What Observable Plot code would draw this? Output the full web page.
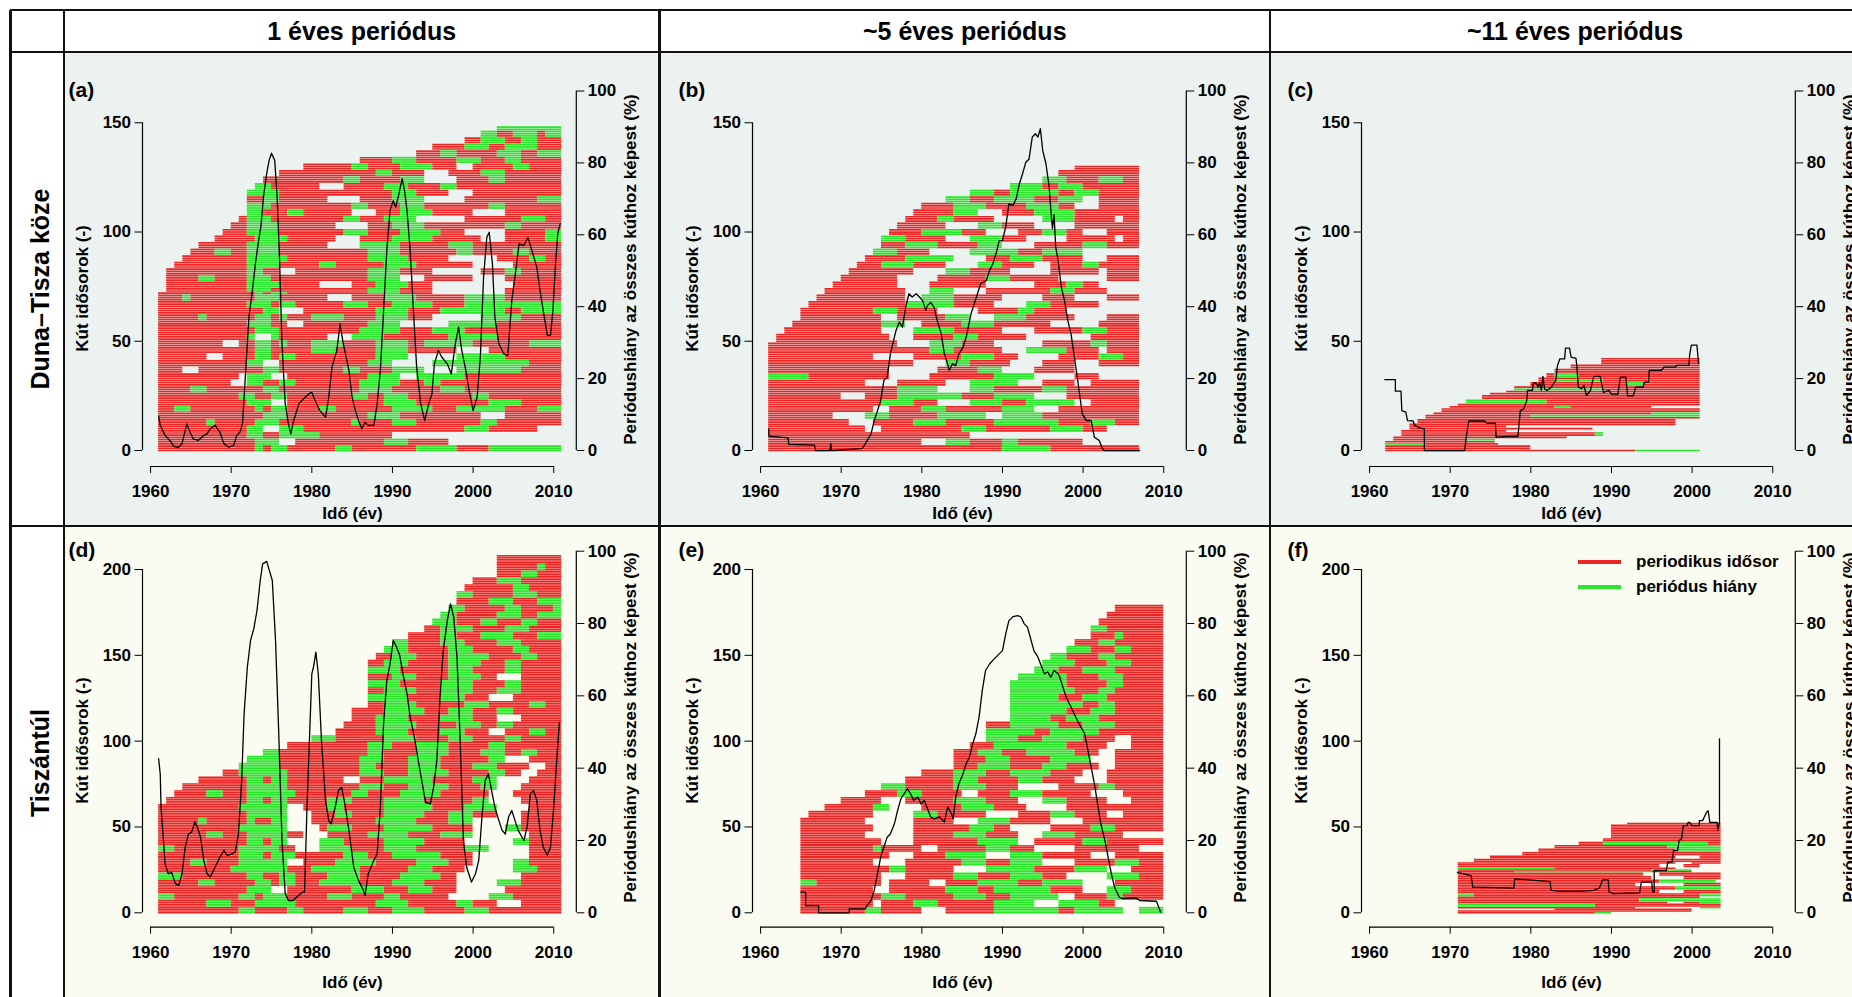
<!DOCTYPE html>
<html lang="hu">
<head>
<meta charset="utf-8">
<script src="https://cdn.jsdelivr.net/npm/d3@7"></script>
<script src="https://cdn.jsdelivr.net/npm/@observablehq/plot@0.6"></script>
<style>
  html, body { margin:0; padding:0; background:#fff; }
  body { width:1852px; height:997px; overflow:hidden; position:relative;
         font-family:'Liberation Sans', Arial, Helvetica, sans-serif; font-weight:bold; color:#000; }
  .bg { position:absolute; }
  .line { position:absolute; background:#111; }
  .head { position:absolute; display:flex; align-items:center; justify-content:center; font-size:25px; white-space:nowrap; }
  .rowlab { position:absolute; font-size:25px; white-space:nowrap; transform:translate(-50%,-50%) rotate(-90deg); }
  .panel { position:absolute; width:600px; }
  .panel svg { display:block; max-width:none !important; }
  .leg { position:absolute; font-size:17px; white-space:nowrap; }
  .sw { position:absolute; height:4px; }
</style>
</head>
<body>
<script>
// ---------------- texts ----------------
const columnTitles = ["1 éves periódus", "~5 éves periódus", "~11 éves periódus"];
const rowTitles = ["Duna–Tisza köze", "Tiszántúl"];
const panelLetters = ["(a)", "(b)", "(c)", "(d)", "(e)", "(f)"];
const titleWells = "Kút idősorok (-)";
const titlePct = "Periódushiány az összes kúthoz képest (%)";
const titleTime = "Idő (év)";
const legendLabels = ["periodikus idősor", "periódus hiány"];

// ---------------- ticks ----------------
const xTicks = [1960, 1970, 1980, 1990, 2000, 2010];
const wellTicksTop = [0, 50, 100, 150];
const wellTicksBottom = [0, 50, 100, 150, 200];
const pctTicks = [0, 20, 40, 60, 80, 100];

// ------------- well time series: [number of wells, start year, runs (r = periodic, g = missing period, _ = no data; years)] -------------
const wellsA = [
 [3,1961,"r12 g1 r1 g2 r6 g2 r8 g5 r4 g9"],
 [3,1961,"r12 g3 _2 r11 g3 r5"],
 [3,1961,"r11 g2 r2 g5 r9"],
 [3,1961,"r11 g2 _2 g3 r20 g3 r6"],
 [3,1961,"r6 g1 r5 g3 r9 g1 r4 g3 r8 g2 r8"],
 [3,1961,"r13 g3 r10 g4 r10 _3 r7"],
 [3,1961,"r2 g2 r8 g1 r1 g2 r4 g2 r7 g5 r3 g6 r4 g3"],
 [3,1961,"r11 g3 _2 r12 g4 r9 g4 r5"],
 [3,1961,"r10 g2 r2 g2 r8 g2 r2 g3 r8 g2 r9"],
 [3,1961,"r4 g2 r7 g2 r10 g4 r6 g3 r12"],
 [3,1961,"r9 _2 g2 r2 g2 r8 g5 r3 g2 r15"],
 [3,1961,"r10 _1 g3 _2 r10 g4 _2 g6 r12"],
 [3,1961,"r3 _2 r8 g2 r8 g2 r4 g4 _4 g8 r5"],
 [3,1961,"r11 g2 _2 r11 g3 _5 g12 r4"],
 [3,1961,"r6 _2 r4 g2 r1 g2 r10 g4 _6 g6 r7"],
 [3,1961,"r12 g2 r5 g3 r5 g4 r6 _4 r9"],
 [3,1961,"r8 _2 r2 g2 r1 g1 r3 g4 r4 g4 r2 g6 r7 g4"],
 [3,1961,"r11 g1 _2 g1 r6 _3 g4 r8 g6 r8"],
 [3,1961,"r12 g3 r10 g5 r4 g4 r12"],
 [3,1961,"r11 g3 r2 _2 r8 g4 _6 g6 r8"],
 [3,1961,"r5 g1 r6 g2 r1 g1 r3 g4 r4 g4 r3 _6 g5 r5"],
 [3,1961,"r13 g2 _3 r9 g4 r4 g8 r2 g5"],
 [3,1961,"r11 g3 r1 g2 r6 g3 r3 g5 r4 g12"],
 [3,1961,"r3 g1 r8 g3 r6 _3 r4 g4 r6 g5 r7"],
 [1,1961,"r12 g1 r1 g2 r10 g4 r4 _9 r7"],
 [2,1962,"r10 g3 r12 g4 r4 _9 r7"],
 [3,1962,"r10 g4 r5 _4 r3 g4 r3 _10 r6"],
 [3,1962,"r4 g2 r4 g3 r12 g4 _3 r6 _4 r7"],
 [3,1962,"r10 g2 r2 _2 r9 g4 r4 _6 r3 g2 r5"],
 [3,1963,"r9 g4 r5 g2 r6 g4 r7 _5 r6"],
 [3,1964,"r8 g5 r10 g5 r5 _6 r4 g2 r2"],
 [3,1965,"r3 g2 r2 g4 r11 g4 r7 g2 r5 g2 r4"],
 [3,1966,"r6 g4 r6 _4 g5 r6 g3 r11"],
 [3,1968,"r5 g4 r6 _3 r4 g5 r6 _3 r5 g2"],
 [3,1969,"r3 g4 r8 g3 r4 g5 r3 _5 r5 g2"],
 [3,1970,"r2 g4 r7 _4 r3 g4 r10 g2 r5"],
 [3,1971,"r1 g3 r9 g2 r3 g4 _6 r7 g3 r2"],
 [3,1972,"g2 r3 g2 r6 _3 r3 g4 r5 _4 r7"],
 [3,1972,"g3 r10 g2 r4 g3 r8 g2 r7"],
 [3,1972,"r2 g2 r6 _4 r4 g4 _5 r9 g3"],
 [3,1972,"g4 r14 g3 r4 _3 r11"],
 [3,1973,"g2 r6 _3 r5 g3 r4 g2 r13"],
 [3,1974,"r10 g2 r5 g3 _4 r4 g2 r7"],
 [3,1976,"r12 g2 r4 _3 r4 g3 r7"],
 [3,1979,"r6 g2 r4 g4 r3 _2 r5 g2 r4"],
 [3,1986,"r4 g3 r5 g3 r3 g2 r5"],
 [3,1993,"r3 g2 r5 g3 r2 g3"],
 [3,1995,"r4 g3 r2 g4 r3"],
 [3,1999,"r2 g3 r2 g2 r3"],
 [3,2001,"g2 r2 g3 r1 g2"],
 [2,2003,"g8"]
];
const wellsB = [
 [3,1961,"r29 g6 r11"],
 [3,1961,"r19 _3 g3 r4 g2 r8"],
 [3,1961,"r25"],
 [3,1961,"r12 _2 r10 g3 r8 g4 r3"],
 [3,1961,"r10 _3 r5 g4 r6 g8 r4 g3 r3"],
 [3,1961,"r8 _4 g3 r6 g6 _2 g5 r12"],
 [3,1961,"r13 _2 r4 g3 r7 g4 _3 r10"],
 [3,1961,"r14 g4 r3 _4 g4 r3 g6 _2 r6"],
 [3,1961,"r9 _3 r4 g8 r4 g5 _4 r9"],
 [3,1961,"r16 g5 _4 g3 r6 g3 r9"],
 [3,1961,"r12 _4 r6 _3 g6 _3 r4 _2 r6"],
 [3,1961,"g5 r10 _5 r8 g5 _5 r3"],
 [3,1961,"r15 _6 r5 g3 _4 r5"],
 [3,1961,"r18 _4 g3 r5 _4 r4 _3 r5"],
 [3,1961,"r13 _5 r6 g4 r3 _5 r5 g3 r2"],
 [3,1961,"r20 g3 r6 _3 g5 r4 _1 r4"],
 [2,1961,"r16 _4 g4 r4 _6 r6 g2 r4"],
 [1,1962,"r15 _4 g4 r4 _6 r6 g2 r4"],
 [3,1962,"r14 _3 r5 g3 r6 _8 r6"],
 [3,1963,"r12 _4 g5 r6 _4 r6 g3 r4"],
 [3,1964,"r11 g3 _2 r5 g4 r7 _6 r5"],
 [3,1965,"r10 _2 r6 g3 _3 g4 r6 _4 r4"],
 [3,1965,"r9 g3 r5 _5 r5 g2 r4"],
 [3,1966,"r12 g6 r5 _4 g3 r6"],
 [3,1967,"r11 _2 g4 r6 _5 r4 _4 r4"],
 [3,1968,"r10 _3 g3 _4 r8 g3 r4"],
 [3,1969,"r8 _4 r7 _6 r4 g2 r2"],
 [3,1970,"r7 _5 r6 g3 r6 _6 r4"],
 [3,1971,"r8 _4 g3 r5 _5 r6 _1 r4"],
 [3,1972,"r3 g4 r4 _4 g3 r4 _2 r4 g2 r5"],
 [3,1973,"r5 g6 _4 r3 g4 r5 _3 r4"],
 [3,1974,"g3 r4 _5 g6 r3 g5"],
 [3,1975,"r3 g4 r5 g3 _4 r6 g3 r4"],
 [3,1975,"g3 r5 _3 g4 r3 _5 r6 _1 r2"],
 [3,1976,"r4 g5 r3 _4 r3 g3 r2 _3 r4"],
 [3,1977,"r6 _4 g3 r4 _5 r8"],
 [3,1978,"r4 g2 r5 _6 g4 r5 _1 r2"],
 [3,1979,"r5 g3 _3 r4 g5 r8"],
 [3,1980,"r4 g4 r5 g4 r2 _3 r5"],
 [3,1983,"g3 r3 g5 r3 g3 _2 r5"],
 [3,1986,"g3 r2 g6 r2 g3 r5"],
 [3,1991,"g4 r2 g3 r7"],
 [3,1995,"g3 r4 g3 r2"],
 [3,1997,"r10"],
 [2,1999,"r8"]
];
const wellsC = [
 [1,1962,"r31 g8"],
 [2,1962,"r18"],
 [1,1962,"g5 r9"],
 [1,1962,"r13.6"],
 [1,1963,"r9 g3.6"],
 [1,1963,"r21.5"],
 [2,1964,"r24 g1"],
 [1,1964,"r13"],
 [1,1965,"r22.7"],
 [1,1965,"r12"],
 [1,1965,"r33"],
 [2,1966,"r32"],
 [1,1967,"r34"],
 [1,1967,"r13 g21"],
 [1,1968,"r27 g6"],
 [2,1969,"r32"],
 [1,1970,"r13 g2 r10"],
 [1,1971,"r30"],
 [2,1972,"g10 r19"],
 [2,1974,"r27"],
 [1,1975,"r26"],
 [1,1977,"r24"],
 [1,1978,"g11 r12"],
 [1,1978,"r23"],
 [2,1980,"r12 g2 r7"],
 [1,1981,"r2 g6 r12"],
 [1,1981,"r20"],
 [2,1982,"r1 g3 r15"],
 [2,1983,"r18"],
 [2,1985,"r16"],
 [3,1988.8,"r12.2"]
];
const wellsD = [
 [4,1961,"r10 g2 r4 g2 r5 g3 r3 g4 r5 g3 r9"],
 [4,1961,"r6 g3 r3 g5 r10 g4 r6 g2 r3 _3 r5"],
 [4,1961,"g2 r8 g2 r1 g3 r5 g3 r4 g2 r6 _5 g3 r6"],
 [4,1961,"r11 g3 _2 r8 g4 r3 g3 r3 _6 r7"],
 [4,1961,"r5 g2 r5 g2 r1 g2 r3 g5 r4 g4 r4 _5 g3 r5"],
 [4,1961,"g3 r8 g2 r2 g2 r4 g4 r5 g5 r2 _8 r5"],
 [4,1961,"r9 g7 r3 g6 r6 g3 r4 _6 g3 r3"],
 [4,1961,"r4 g2 r4 g6 _2 r4 g5 r5 g4 r3 _5 g2 r4"],
 [4,1961,"r10 g3 r1 g3 r6 g3 r3 g6 r4 _7 r4"],
 [4,1961,"g2 r8 g5 r2 _3 g4 r4 g4 r6 g3 _5 r4"],
 [4,1961,"r11 g2 r1 g2 _4 g3 r5 g5 r5 _6 g2 r4"],
 [4,1961,"r6 g2 r3 g5 r2 _3 r5 g5 r4 g4 _7 r4"],
 [4,1961,"r10 g6 _4 r1 g3 r4 g6 r5 _4 g2 r5"],
 [4,1961,"r5 g1 r5 g1 r2 g2 _3 r8 g5 r4 g3 _6 r5"],
 [4,1961,"r11 g5 _3 r3 g2 r4 g5 r3 g3 r3 _3 r5"],
 [4,1961,"r10 g6 _2 r3 g2 r5 g6 r4 g4 _4 r4"],
 [4,1962,"r10 g2 r1 g2 r5 g3 r4 g5 r6 g2 _4 r5"],
 [4,1963,"r4 g2 r3 g6 r7 g2 r4 g5 r6 _3 r6"],
 [4,1964,"r8 g5 r9 g3 r3 g5 r4 g2 _3 r5"],
 [4,1966,"r6 g2 r1 g2 r7 _2 r3 g6 r5 g3 _4 r4"],
 [4,1969,"r2 g6 r9 g3 r3 g5 r5 g2 r2 _2 r3"],
 [4,1971,"g5 r10 g2 r4 g4 r4 g3 r4 _2 r2"],
 [4,1972,"g4 r10 g3 r3 g4 r6 g2 _3 r4"],
 [4,1974,"g2 r11 g2 r4 g4 r4 g3 r2 g2 r3"],
 [4,1977,"r10 g3 r3 g4 r5 g2 r7"],
 [4,1980,"g3 r6 g4 r4 g3 r4 g2 r5"],
 [4,1983,"r5 g4 r4 g3 r3 _2 r3 g2 r2"],
 [4,1984,"r4 g5 r5 g3 r2 g2 r6"],
 [4,1985,"r3 g4 r4 g4 r3 _3 r5"],
 [4,1985,"r4 g5 r3 g3 r3 g2 r6"],
 [4,1987,"r2 g4 r6 g3 r5 g2 r2"],
 [4,1987,"g5 r4 g3 r3 _3 r6"],
 [4,1987,"r2 g4 r3 g4 r3 g3 r5"],
 [4,1987,"g4 r5 g4 r4 g2 r5"],
 [4,1987,"r3 g3 r4 g4 r2 _3 r5"],
 [4,1987,"g4 r6 g3 r4 g2 r5"],
 [4,1987,"r2 g3 r5 g4 r3 g2 r5"],
 [4,1988,"r2 g3 r4 g5 r4 g2 r3"],
 [4,1989,"g3 r5 g3 r5 g2 r4"],
 [4,1990,"g2 r4 g3 r4 g3 r5"],
 [4,1992,"r4 g2 r3 g4 r3 g3"],
 [4,1994,"r2 g4 r4 g3 r4"],
 [4,1995,"g3 r3 g2 r3 g2 r3"],
 [4,1996,"g2 r5 g3 r2 g3"],
 [4,1997,"g2 r5 g2 r4 g1"],
 [4,1998,"r4 g3 r3 g3"],
 [4,1998,"g2 r5 g3 r3"],
 [4,1999,"r6 g2 r4"],
 [4,2000,"r3 g3 r5"],
 [4,2003,"r3 g2 r3"],
 [4,2003,"r5 g1 r2"],
 [5,2003,"r8"]
];
const wellsE = [
 [4,1965,"r8 g2 r5 _3 r6 g8 r2 g6 _2 g3"],
 [4,1965,"r9 _1 r4 g3 r7 g5 _3 g5 r2"],
 [4,1965,"r10 g3 r6 g4 r3 g6 _2 r4 g2 r5"],
 [4,1965,"r9 _2 r7 g4 r2 g7 r4 _3 g3 r4"],
 [4,1965,"g2 r8 _1 r5 _2 r4 g5 r3 g5 _4 r6"],
 [4,1965,"r10 _3 r6 g3 r4 g4 r3 _5 g4 r3"],
 [4,1965,"r11 g2 r6 _4 g6 r5 g4 _3 r4"],
 [4,1965,"r9 _4 r7 g3 r3 g4 _4 r5 g3 r3"],
 [4,1965,"r11 _3 r4 g5 _3 g4 r6 _3 r6"],
 [4,1965,"r9 g1 r5 _2 r6 g3 r3 _5 r8"],
 [4,1965,"r10 _4 r8 g5 _2 r6 g3 r7"],
 [4,1965,"r8 _6 r5 g4 r4 _3 g4 r6"],
 [4,1965,"r9 _5 r7 g3 r2 _5 r5 g3 r6"],
 [4,1965,"r8 _6 r5 _3 g4 r5 _4 r10"],
 [4,1966,"r8 _5 g3 r6 _4 r4 g3 r4 _2 r5"],
 [4,1968,"r6 g2 _4 r5 g4 r4 _5 r12"],
 [4,1970,"r5 _3 r6 g4 r4 _3 g3 r5 _3 r4"],
 [4,1973,"r4 g3 r5 _2 r4 g4 r6 _4 r5"],
 [4,1975,"g3 r6 g4 r4 _5 r5 g2 r6"],
 [4,1978,"r6 g3 r5 g3 r4 _4 r7"],
 [4,1980,"r4 g4 r3 g5 r4 _3 r7"],
 [4,1984,"r3 g4 r4 g3 r4 _2 r6"],
 [4,1984,"r4 g3 r5 g5 _3 r6"],
 [4,1984,"r3 g3 r3 g6 r3 _2 r6"],
 [4,1986,"r3 g9 r5 _3 r4"],
 [4,1988,"g4 r3 g5 r4 _2 r4"],
 [4,1988,"g6 r2 g6 r8"],
 [4,1988,"r3 g6 r3 g4 r6"],
 [4,1991,"g5 r2 g4 r8"],
 [4,1991,"g7 r3 g3 r6"],
 [4,1991,"g9 r2 g2 r6"],
 [4,1991,"g6 r3 g3 r7"],
 [4,1991,"g8 r3 g2 r6"],
 [4,1991,"g7 r5 g2 r5"],
 [4,1992,"g6 r4 g3 r5"],
 [4,1994,"g3 r3 g4 r6"],
 [4,1995,"g4 r4 g3 r4"],
 [4,1996,"g2 r4 g2 r6"],
 [4,1998,"g3 r3 g2 r4"],
 [4,1999,"r3 g2 r6"],
 [4,2001,"r3 g1 r5"],
 [4,2001,"g2 r7"],
 [4,2002,"r8"],
 [4,2003,"r7"],
 [4,2004,"r6"]
];
const wellsF = [
 [1,1971,"r17 g2"],
 [1,1971,"r29"],
 [1,1983,"r17"],
 [1,1971,"r22 _8 g2.6"],
 [2,1971,"g17 r15.6"],
 [1,1971,"r26 _2 r2 g2.6"],
 [2,1971,"r22.5 g10.1"],
 [1,1971,"r30"],
 [2,1971,"g2 r28 g2.6"],
 [2,1971,"r25 _3 r4.6"],
 [2,1971,"r27 g5.6"],
 [2,1971,"r22 _6 r4.6"],
 [2,1971,"r25 g7"],
 [2,1971,"r24 _4 r4.6"],
 [2,1971,"r23 _2 r7.6"],
 [1,1971,"r7 g17 r5"],
 [1,1971,"r24 g5"],
 [1,1971,"g12 r15"],
 [2,1971,"r25 _3 r2"],
 [1,1971,"r27 _2 r3.6"],
 [2,1973,"r30.6"],
 [2,1975,"r23 _3 r2.6"],
 [2,1979,"r24.6"],
 [2,1981,"r17 g5.6"],
 [2,1983,"r14 g6.6"],
 [2,1986,"r3 g13 r1.6"],
 [2,1989,"r14.6"],
 [4,1990,"r13.6"],
 [4,1990,"r13.6"],
 [1,1992,"r11.6"]
];

// ------------- missing-period share (%) : [year, percent] -------------
const lineA = [[1961.0,9.5],[1961.2,7.0],[1961.8,4.2],[1962.4,2.8],[1962.9,1.1],[1963.5,0.9],[1963.9,1.9],[1964.5,7.4],[1964.9,5.1],[1965.3,3.2],[1965.9,2.8],[1966.6,4.2],[1967.0,4.6],[1967.4,6.0],[1968.0,7.0],[1968.6,5.1],[1969.1,1.9],[1969.7,0.9],[1970.3,1.4],[1970.7,4.2],[1971.1,5.1],[1971.4,7.4],[1971.7,18.5],[1972.2,37.1],[1972.6,44],[1973.0,51.9],[1973.4,58.4],[1973.7,62.6],[1974.0,70.5],[1974.4,77],[1974.7,80.7],[1975.0,82.7],[1975.4,80.7],[1975.7,70.5],[1976.0,52.9],[1976.3,29.7],[1976.7,13],[1977.1,7.4],[1977.4,4.6],[1977.7,7.9],[1978.4,13],[1978.8,13.9],[1979.2,14.8],[1979.7,15.9],[1980.0,16.2],[1980.4,13.9],[1981.0,11.1],[1981.7,9.3],[1982.1,14.8],[1982.5,23.2],[1983.1,27.8],[1983.5,35.2],[1983.9,29.7],[1984.6,22.3],[1985.0,14.8],[1985.4,11.1],[1985.8,8.3],[1986.2,6.0],[1986.6,7.9],[1987.0,7.0],[1987.7,7.0],[1988.1,13],[1988.5,22.3],[1988.9,38.9],[1989.3,55.6],[1989.7,66.8],[1990.1,69.5],[1990.4,67.7],[1990.8,71.4],[1991.2,75.6],[1991.5,72.3],[1991.8,66.8],[1992.2,55.6],[1992.6,38.9],[1993.0,23.2],[1993.5,13],[1994.0,8.3],[1994.5,13],[1994.9,15.8],[1995.2,24.1],[1995.7,27.8],[1996.1,26],[1996.8,24.1],[1997.3,21.3],[1997.8,29.7],[1998.2,34.3],[1998.6,27.8],[1999.1,22.3],[1999.5,16.7],[2000.0,11.1],[2000.5,14.8],[2000.9,26],[2001.3,48.2],[2001.7,59.3],[2002.0,60.7],[2002.4,51.9],[2002.7,37.1],[2003.2,29.7],[2003.8,26.9],[2004.3,26.4],[2004.8,41.7],[2005.3,50.1],[2005.7,57.5],[2006.3,57],[2006.8,59.3],[2007.3,55.6],[2007.9,51],[2008.3,44.5],[2008.7,38.9],[2009.2,32],[2009.6,32],[2009.9,38.9],[2010.2,51],[2010.5,60.3],[2010.8,63.1]];
const lineB = [[1961.0,6],[1961.05,4],[1963.4,3.5],[1963.5,1.7],[1966.7,1.5],[1966.8,0],[1968.6,0],[1968.7,2],[1968.8,0],[1972.6,0.5],[1973.0,1.9],[1973.7,4.6],[1974.1,8.3],[1974.5,11.1],[1974.9,13.9],[1975.3,19.5],[1975.7,20.4],[1976.1,26.9],[1976.8,33.4],[1977.2,35.7],[1977.6,34.3],[1978.0,39.9],[1978.4,43.6],[1978.8,42.7],[1979.3,43.6],[1979.7,42.7],[1980.1,41.7],[1980.5,38.9],[1980.7,40.3],[1981.1,41.2],[1981.5,39.9],[1981.9,36.2],[1982.4,32.5],[1982.8,26.9],[1983.2,24.1],[1983.4,22.3],[1983.8,24.1],[1984.2,23.6],[1984.6,26.9],[1985.1,28.7],[1985.5,31.5],[1986.1,38],[1986.5,40.8],[1986.9,43.6],[1987.3,46.4],[1988.0,47.3],[1988.4,50.1],[1988.8,51.9],[1989.2,54.7],[1989.6,58.4],[1990.0,58.4],[1990.4,62.1],[1990.8,68.6],[1991.3,68.1],[1991.7,70],[1992.1,74.2],[1992.5,77],[1992.9,80.2],[1993.3,81.1],[1993.7,87.2],[1994.1,88.1],[1994.4,87.2],[1994.7,89.5],[1995.0,83.4],[1995.4,79.7],[1995.8,73.2],[1996.0,66.8],[1996.2,61.7],[1996.4,65.7],[1996.6,56.6],[1996.9,52.9],[1997.3,45.4],[1997.7,41.7],[1998.1,36.2],[1998.5,32.5],[1999.1,23.2],[1999.5,16.7],[1999.9,10.2],[2000.4,8.3],[2001.0,8.3],[2001.4,3.7],[2002.0,2.8],[2002.4,0.5],[2002.6,0],[2007.0,0]];
const lineC = [[1961.9,19.7],[1963.2,19.7],[1963.2,16.5],[1963.9,16.5],[1964.0,11.1],[1964.5,10.7],[1964.7,8.3],[1965.4,8.2],[1965.6,7.0],[1966.2,6.3],[1966.8,6.0],[1966.8,0],[1971.8,0],[1972.0,3.9],[1972.3,8.2],[1974.3,8.2],[1974.5,7.6],[1975.6,7.6],[1975.7,3.7],[1977.1,3.9],[1978.4,3.9],[1978.7,11.1],[1979.1,11.5],[1979.5,13.9],[1979.6,16.7],[1980.2,16.7],[1980.3,18.7],[1980.7,18.7],[1980.9,17.6],[1981.1,18.9],[1981.3,16.7],[1981.5,20.6],[1981.7,17.2],[1982.0,16.7],[1982.5,17.5],[1983.1,19.5],[1983.3,23.6],[1983.6,25.5],[1984.2,25.5],[1984.3,28.5],[1984.8,28.5],[1985.0,26.0],[1985.6,25.6],[1985.7,23.6],[1985.9,17.6],[1986.3,17.2],[1986.6,18],[1986.9,15.3],[1987.4,16.7],[1987.8,20.6],[1988.6,20.6],[1989.0,16.2],[1989.7,16.7],[1990.0,15.7],[1990.8,15.7],[1991.1,20.4],[1991.8,20.4],[1992.0,15.2],[1992.7,15.2],[1993.0,17.6],[1993.9,17.6],[1994.1,19],[1994.6,19],[1994.7,22.3],[1996.2,22.3],[1996.5,23.2],[1997.9,23.2],[1998.1,23.7],[1999.6,23.7],[1999.7,26.6],[1999.9,29.3],[2000.6,29.3],[2000.8,24.2]];
const lineD = [[1961.0,42.6],[1961.2,38.4],[1961.3,29.2],[1961.6,20],[1961.8,13.5],[1962.0,12.2],[1962.2,10.8],[1962.6,11.2],[1963.1,8.0],[1963.5,7.6],[1963.9,10.8],[1964.3,18.2],[1964.7,21.8],[1965.1,22.3],[1965.5,25.1],[1965.8,23.7],[1966.2,20.9],[1966.6,14.5],[1967.0,10.8],[1967.4,9.9],[1967.8,11.7],[1968.2,13.5],[1968.6,15.4],[1969.1,17.2],[1969.5,15.9],[1970.1,16.3],[1970.5,16.8],[1970.9,21.8],[1971.3,36.6],[1971.6,55],[1972.0,67.9],[1972.4,75.3],[1972.8,78.5],[1973.2,83.6],[1973.6,91.9],[1973.9,96.5],[1974.4,97.2],[1975.1,91.9],[1975.5,75.3],[1975.9,49.5],[1976.3,20],[1976.7,5.3],[1977.1,3.4],[1977.7,3.4],[1978.1,4.3],[1978.8,5.7],[1979.1,5.7],[1979.4,29.2],[1979.7,47.6],[1980.0,66.1],[1980.2,67.9],[1980.5,72.1],[1980.8,66.1],[1981.2,47.6],[1981.7,31],[1982.1,25.5],[1982.4,24.6],[1982.9,29.2],[1983.3,33.8],[1983.7,34.7],[1984.1,30.1],[1984.6,22.8],[1985.2,12.6],[1985.8,8.9],[1986.4,6.2],[1986.6,4.8],[1987.0,10.8],[1987.7,14.5],[1988.1,16.3],[1988.5,29.2],[1988.9,52.3],[1989.3,64.2],[1989.7,68.8],[1990.1,75.3],[1990.5,73.5],[1990.9,71.2],[1991.3,66.1],[1991.8,60.6],[1992.2,54.1],[1992.8,47.6],[1993.2,42.1],[1993.7,35.7],[1994.1,30.6],[1994.7,30.1],[1995.1,34.7],[1995.5,42.1],[1995.9,59.6],[1996.3,72.5],[1996.8,80.8],[1997.2,85.4],[1997.6,81.8],[1998.0,70.8],[1998.4,47.6],[1998.8,20],[1999.2,12.6],[1999.8,8.5],[2000.3,10.8],[2000.7,14.5],[2001.1,26.5],[2001.5,36.6],[2001.9,38.4],[2002.3,33.8],[2002.7,29.2],[2003.2,25.5],[2003.6,22.8],[2004.0,21.8],[2004.4,26.5],[2004.8,28.3],[2005.2,25.5],[2005.6,22.8],[2006.3,20],[2006.7,23.7],[2007.1,32.9],[2007.5,33.8],[2007.9,31.1],[2008.3,22.8],[2008.7,18.2],[2009.2,15.9],[2009.6,18.2],[2010.0,29.2],[2010.4,43],[2010.7,52.7]];
const lineE = [[1965.0,5.7],[1965.6,5.7],[1965.6,2.0],[1967.2,2.0],[1967.2,0],[1971.0,0],[1971.0,1.1],[1973.0,1.1],[1973.2,2],[1973.7,3.4],[1974.1,6.2],[1974.5,10.8],[1974.9,15.4],[1975.3,18.2],[1975.7,20.9],[1976.1,21.8],[1976.6,24.6],[1977.0,28.3],[1977.4,31.5],[1977.8,32.9],[1978.2,34.3],[1978.6,32.9],[1979.0,31.1],[1979.5,32],[1979.9,30.1],[1980.3,31.1],[1980.7,28.8],[1981.1,26.5],[1981.5,26],[1982.2,26.5],[1982.8,25.1],[1983.2,29.2],[1983.6,27.8],[1983.9,26],[1984.2,32],[1984.6,35.7],[1985.1,38.4],[1985.5,41.2],[1985.9,43],[1986.3,46.7],[1986.7,49.5],[1987.1,54.1],[1987.5,61.5],[1987.9,67],[1988.4,68.8],[1988.8,69.8],[1989.2,70.7],[1989.6,71.6],[1990.0,72.5],[1990.4,77.1],[1990.8,80.8],[1991.3,81.9],[1991.9,82.2],[1992.3,81.8],[1992.7,79.9],[1993.1,79],[1993.5,75.8],[1993.9,72.5],[1994.4,70.7],[1994.8,68.4],[1995.2,66.1],[1995.6,66.6],[1996.0,65.2],[1996.4,67],[1996.9,66.1],[1997.1,65.2],[1997.5,62.4],[1997.9,59.6],[1998.5,56.9],[1999.1,54.1],[1999.5,52.3],[2000.2,49.5],[2000.6,44.9],[2001.0,40.3],[2001.4,35.7],[2001.8,30.1],[2002.2,24.6],[2002.7,20],[2003.1,15.4],[2003.5,10.8],[2003.9,7.1],[2004.5,4.3],[2004.9,3.9],[2006.6,4.1],[2007.0,3.4],[2009.1,3.2],[2009.6,0.2]];
const lineF = [[1970.9,11.2],[1972.6,10.3],[1972.8,7.1],[1977.9,6.8],[1978.0,9.4],[1979.4,9.2],[1982.4,8.6],[1982.5,6.2],[1983.5,6.0],[1986.5,6.0],[1987.8,6.2],[1988.5,6.8],[1988.9,9.1],[1989.6,9.1],[1989.7,5.8],[1990.3,5.3],[1993.5,5.5],[1993.7,8.5],[1995.0,8.5],[1995.1,5.8],[1995.3,5.8],[1995.3,11.7],[1996.8,11.7],[1997.0,14],[1997.5,14],[1997.7,17.2],[1998.2,17.2],[1998.4,20],[1998.7,20.5],[1998.9,24.1],[1999.4,24.1],[1999.5,25],[1999.7,25],[2000.0,24.1],[2000.9,24.1],[2000.9,25.5],[2001.3,25.5],[2001.8,27.8],[2002.0,28.2],[2002.2,25],[2003.1,25],[2003.2,22.8],[2003.4,25],[2003.4,48.1]];

// ---------------- styling / layout ----------------
const RED = "#EC2424", GREEN = "#2AE62A", BLACK = "#000";
const BG_TOP = "#ECF2EF", BG_BOTTOM = "#FBFCF1";
const FONT = "'Liberation Sans', Arial, Helvetica, sans-serif";
const colEdges = [64, 659.5, 1270, 1880];
const colAxisLeft = [142, 751.5, 1360.5];
const rowGeo = [
  {top: 52, h: 474, y0: 450, pxW: 2.1847, pxP: 3.595, ax: 466, tickPad: 11, tit: 513.5, letterY: 90, leftTitleY: 288, rightTitleY: 269, sw: 1.7},
  {top: 526, h: 471, y0: 912.3, pxW: 1.7165, pxP: 3.616, ax: 926.7, tickPad: 12, tit: 982, letterY: 550, leftTitleY: 740, rightTitleY: 727, sw: 1.5}
];
const SPAN_LEFT = 100, SPAN = 433.8, SVG_W = 600;
const X_DOMAIN = [1959, 2012.8];

const panels = [
  {row: 0, col: 0, wells: wellsA, line: lineA, yMax: 150, yTicks: wellTicksTop},
  {row: 0, col: 1, wells: wellsB, line: lineB, yMax: 150, yTicks: wellTicksTop},
  {row: 0, col: 2, wells: wellsC, line: lineC, yMax: 150, yTicks: wellTicksTop},
  {row: 1, col: 0, wells: wellsD, line: lineD, yMax: 200, yTicks: wellTicksBottom},
  {row: 1, col: 1, wells: wellsE, line: lineE, yMax: 200, yTicks: wellTicksBottom},
  {row: 1, col: 2, wells: wellsF, line: lineF, yMax: 200, yTicks: wellTicksBottom, legend: true}
];

function expand(bands) {
  const segs = [];
  let w = 0;
  for (const [n, start, runs] of bands) {
    for (let k = 0; k < n; k++, w++) {
      let t = start;
      for (const tok of runs.trim().split(/\s+/)) {
        const c = tok[0], len = parseFloat(tok.slice(1));
        if (c === "r" || c === "g") segs.push({w, x1: t, x2: t + len, c});
        t += len;
      }
    }
  }
  return segs;
}

function el(cls, css, text) {
  const d = document.createElement("div");
  d.className = cls;
  Object.assign(d.style, css);
  if (text != null) d.textContent = text;
  document.body.appendChild(d);
  return d;
}
const px = v => v + "px";

// cell backgrounds
for (let c = 0; c < 3; c++) {
  el("bg", {left: px(colEdges[c]), width: px(colEdges[c+1] - colEdges[c]), top: px(52), height: px(474), background: BG_TOP});
  el("bg", {left: px(colEdges[c]), width: px(colEdges[c+1] - colEdges[c]), top: px(526), height: px(480), background: BG_BOTTOM});
}

const svgStyle = {fontFamily: FONT, fontSize: "17px", fontWeight: "bold", color: BLACK, background: "transparent", overflow: "visible"};
const txt = {text: d => d, frameAnchor: "top-left", textAnchor: "middle", lineAnchor: "middle", fontSize: 17, fontWeight: "bold"};

panels.forEach((p, i) => {
  const g = rowGeo[p.row];
  const L = colAxisLeft[p.col];
  const left = L - SPAN_LEFT;
  const mTop = 10;
  const mBottom = g.h - (g.ax - g.top);
  const frameTop = g.top + mTop;
  const yBase = g.y0 - g.top;
  const yAxisVal = -(g.ax - g.y0) / g.pxW;
  const common = {width: SVG_W, height: g.h, marginLeft: SPAN_LEFT, marginRight: SVG_W - SPAN_LEFT - SPAN, marginTop: mTop, marginBottom: mBottom, style: svgStyle};
  const segs = expand(p.wells);

  const base = Plot.plot({
    ...common,
    x: {domain: X_DOMAIN, range: [SPAN_LEFT, SPAN_LEFT + SPAN]},
    y: {domain: [0, p.yMax], range: [yBase, yBase - p.yMax * g.pxW]},
    color: {domain: ["r", "g"], range: [RED, GREEN]},
    marks: [
      Plot.ruleY(segs, {y: "w", x1: "x1", x2: "x2", stroke: "c", strokeWidth: g.sw}),
      Plot.ruleX([X_DOMAIN[0]], {y1: 0, y2: p.yMax, stroke: BLACK, strokeWidth: 1.2}),
      Plot.ruleY([yAxisVal], {x1: xTicks[0], x2: xTicks[xTicks.length - 1], stroke: BLACK, strokeWidth: 1.2}),
      Plot.axisY(p.yTicks, {anchor: "left", tickSize: 7.5, tickPadding: 4, label: null, tickFormat: "d"}),
      Plot.axisX(xTicks, {anchor: "bottom", tickSize: 7, tickPadding: g.tickPad, label: null, tickFormat: "d"}),
      Plot.text([titleWells], {...txt, dx: -59.5, dy: g.leftTitleY - frameTop, rotate: -90}),
      Plot.text([titleTime], {...txt, dx: 210, dy: g.tit - frameTop}),
      Plot.text([panelLetters[i]], {...txt, dx: -74, dy: g.letterY - frameTop, textAnchor: "start", fontSize: 21})
    ]
  });

  const over = Plot.plot({
    ...common,
    x: {domain: X_DOMAIN, range: [SPAN_LEFT, SPAN_LEFT + SPAN], axis: null},
    y: {domain: [0, 100], range: [yBase, yBase - 100 * g.pxP]},
    marks: [
      Plot.line(p.line, {x: d => d[0], y: d => d[1], stroke: BLACK, strokeWidth: 1.3}),
      Plot.ruleX([X_DOMAIN[1]], {y1: 0, y2: 100, stroke: BLACK, strokeWidth: 1.2}),
      Plot.axisY(pctTicks, {anchor: "right", tickSize: 7.5, tickPadding: 4, label: null, tickFormat: "d"}),
      Plot.text([titlePct], {...txt, dx: SPAN + 54, dy: g.rightTitleY - frameTop, rotate: -90})
    ]
  });

  const d1 = el("panel", {left: px(left), top: px(g.top), height: px(g.h)});
  d1.appendChild(base);
  const d2 = el("panel", {left: px(left), top: px(g.top), height: px(g.h)});
  d2.appendChild(over);

  if (p.legend) {
    const items = [[RED, legendLabels[0], 561.7], [GREEN, legendLabels[1], 586.7]];
    for (const [col, lab, y] of items) {
      el("sw", {left: px(L + 217.3), width: px(43), top: px(y - 2), background: col});
      el("leg", {left: px(L + 275.5), top: px(y - 10.5), lineHeight: "21px"}, lab);
    }
  }
});

// header texts
columnTitles.forEach((t, c) => {
  el("head", {left: px(colEdges[c]), width: px(colEdges[c+1] - colEdges[c]), top: px(10), height: px(42)}, t);
});
// row labels
el("rowlab", {left: px(40), top: px(289)}, rowTitles[0]);
el("rowlab", {left: px(40), top: px(763)}, rowTitles[1]);

// table rules
const LW = 2.5;
[10, 52, 526].forEach(y => el("line", {left: px(10), width: px(1900), top: px(y - LW/2), height: px(LW)}));
[10.5, 64, 659.5, 1270].forEach(x => el("line", {left: px(x - LW/2), width: px(LW), top: px(10), height: px(1000)}));
</script>
</body>
</html>
